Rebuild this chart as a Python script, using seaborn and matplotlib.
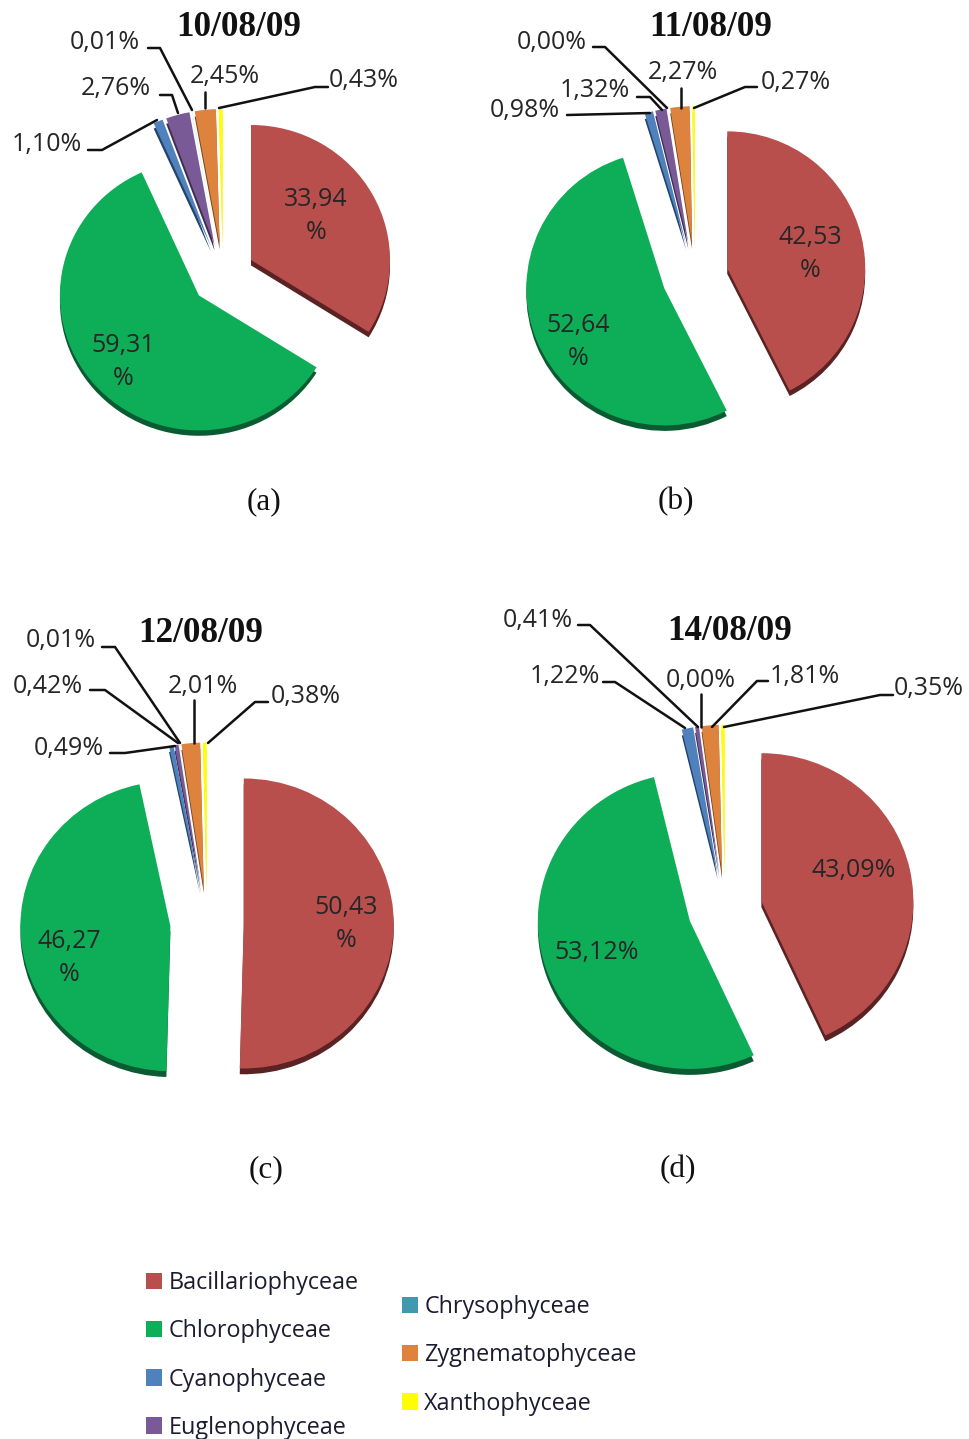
import matplotlib
matplotlib.use("Agg")
import matplotlib.pyplot as plt
from matplotlib.patches import Patch
from matplotlib.transforms import Affine2D
import seaborn as sns

W, H = 969, 1439

# Algal classes and their share (%) of the community on each sampling date
classes = ["Bacillariophyceae", "Chlorophyceae", "Cyanophyceae", "Euglenophyceae",
           "Chrysophyceae", "Zygnematophyceae", "Xanthophyceae"]
dates = ["10/08/09", "11/08/09", "12/08/09", "14/08/09"]
captions = ["(a)", "(b)", "(c)", "(d)"]
share_10 = [33.94, 59.31, 1.10, 2.76, 0.01, 2.45, 0.43]
share_11 = [42.53, 52.64, 0.98, 1.32, 0.00, 2.27, 0.27]
share_12 = [50.43, 46.27, 0.49, 0.42, 0.01, 2.01, 0.38]
share_14 = [43.09, 53.12, 1.22, 0.41, 0.00, 1.81, 0.35]

colors = ["#B84F4D", "#0EAE59", "#4F81BD", "#7A5A96", "#4298AF", "#DD833E", "#FFFF00"]
shadows = ["#5A2222", "#0A5B32", "#24446E", "#3E2C52", "#1F5563", "#7A4519", "#E8E850"]

sns.set_theme(style="white")
plt.rcParams["font.family"] = ["Open Sans", "DejaVu Sans"]
palette = sns.color_palette(colors)
shadow_palette = sns.color_palette(shadows)

fig = plt.figure(figsize=(W / 100, H / 100), dpi=100, facecolor="white")
# Page coordinates: pixels from the top-left corner
page = Affine2D().scale(1, -1).translate(0, H)

TEXT = "#262626"
LABEL_PT = 18

panels = [
    dict(values=share_10, centre=(223, 275), radii=(139, 135), explode=0.23,
         title_at=(239, 27), caption_at=(264, 502),
         inner=[(316, 216, 1), (123, 362, 1)],
         outer=[((47, 144), [(88, 150), (102, 150), (157, 120)]),
                ((116, 89), [(160, 95), (172, 95), (178, 113)]),
                ((105, 42), [(148, 48), (160, 48), (192, 110)]),
                ((225, 77), [(205, 92), (205, 108)]),
                ((364, 81), [(328, 87), (315, 87), (219, 108)])]),
    dict(values=share_11, centre=(695, 276), radii=(138, 137), explode=0.24,
         title_at=(711, 27), caption_at=(676, 502),
         inner=[(810, 254, 1), (578, 342, 1)],
         outer=[((525, 110), [(567, 115), (650, 113)]),
                ((595, 90), [(637, 97), (650, 97), (662, 110)]),
                ((552, 42), [(593, 47), (605, 47), (667, 108)]),
                ((683, 73), [(681, 88), (681, 108)]),
                ((796, 82), [(757, 87), (745, 87), (694, 108)])]),
    dict(values=share_12, centre=(207, 923), radii=(150, 145), explode=0.245,
         title_at=(201, 634), caption_at=(266, 1170),
         inner=[(346, 924, 1), (69, 958, 1)],
         outer=[((69, 749), [(110, 753), (125, 753), (175, 746)]),
                ((48, 686), [(90, 690), (105, 690), (178, 743)]),
                ((61, 641), [(102, 647), (115, 647), (180, 743)]),
                ((203, 686), [(194, 700), (194, 743)]),
                ((306, 697), [(268, 702), (255, 702), (208, 743)])]),
    dict(values=share_14, centre=(725, 909), radii=(152, 148), explode=0.245,
         title_at=(730, 631), caption_at=(678, 1170),
         inner=[(854, 870, 0), (597, 952, 0)],
         outer=[((565, 677), [(603, 682), (615, 682), (685, 728)]),
                ((538, 620), [(578, 625), (590, 625), (698, 727)]),
                ((701, 680), [(701, 694), (701, 727)]),
                ((805, 676), [(768, 681), (757, 681), (712, 727)]),
                ((929, 688), [(893, 695), (880, 695), (724, 727)])]),
]


def pct(value):
    return f"{value:.2f}".replace(".", ",")


def draw_panel(spec, date, caption):
    cx, cy = spec["centre"]
    rx, ry = spec["radii"]
    span = 1.35
    ax = fig.add_axes([(cx - span * rx) / W, 1 - (cy + span * ry) / H,
                       2 * span * rx / W, 2 * span * ry / H])
    values = spec["values"]
    explode = [spec["explode"]] * len(values)
    # Darker copy just below the pie gives the extruded look
    ax.pie(values, colors=shadow_palette, explode=explode, startangle=90,
           counterclock=False, center=(0, -0.04),
           wedgeprops=dict(linewidth=0, zorder=1))
    ax.pie(values, colors=palette, explode=explode, startangle=90,
           counterclock=False, wedgeprops=dict(linewidth=0, zorder=2))
    ax.set_aspect("auto")
    ax.set_xlim(-span, span)
    ax.set_ylim(-span, span)
    ax.axis("off")

    ax.text(*spec["title_at"], date, transform=page, ha="center", va="center",
            family="Liberation Serif", weight="bold", fontsize=25.3, color="#111111")
    ax.text(*spec["caption_at"], caption, transform=page, ha="center", va="center",
            family="Liberation Serif", fontsize=22.5, color="#111111")

    # Two large classes carry their value inside the slice
    for (x, y, wrapped), value in zip(spec["inner"], values[:2]):
        sep = "\n" if wrapped else ""
        ax.text(x, y, f"{pct(value)}{sep}%", transform=page, ha="center", va="center",
                fontsize=LABEL_PT, color=TEXT, linespacing=1.4)

    # Minor classes are labelled outside with leader lines
    small = values[2:]
    for ((lx, ly), path), value in zip(spec["outer"], small):
        ax.text(lx, ly, f"{pct(value)}%", transform=page, ha="center", va="center",
                fontsize=LABEL_PT, color=TEXT)
        ax.plot([p[0] for p in path], [p[1] for p in path], transform=page,
                color="#111111", linewidth=1.8, clip_on=False, zorder=3)


for spec, date, caption in zip(panels, dates, captions):
    draw_panel(spec, date, caption)

legend_kw = dict(loc="upper left", bbox_transform=page, frameon=False, fontsize=16.8,
                 labelspacing=1.04, handlelength=0.7, handleheight=0.7,
                 handletextpad=0.26, borderpad=0, borderaxespad=0, labelcolor="#1c1c30")


def legend_column(idx, x, y):
    handles = [Patch(facecolor=palette[i], edgecolor="none", label=classes[i]) for i in idx]
    fig.legend(handles=handles, bbox_to_anchor=(x, y), **legend_kw)


legend_column([0, 1, 2, 3], 146, 1271)
legend_column([4, 5, 6], 402, 1295)

fig.savefig("out.png", dpi=100, facecolor="white")
